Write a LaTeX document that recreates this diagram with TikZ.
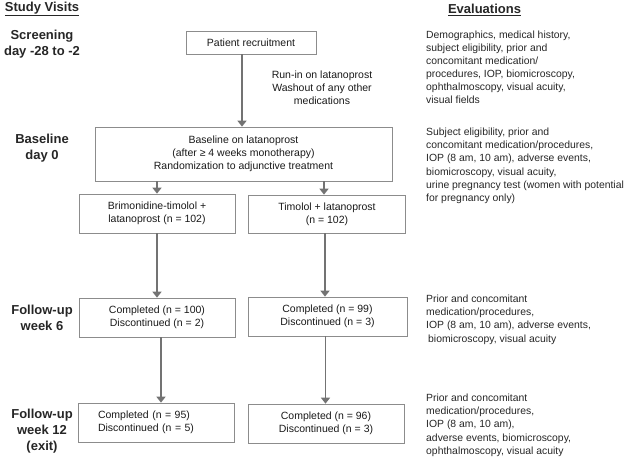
\documentclass[tikz,border=0pt]{standalone}
\usepackage{fontspec}
\setmainfont{Liberation Sans}
\usepackage{tikz}
\usetikzlibrary{arrows.meta}

\tikzset{
  box/.style={draw=black!45, line width=0.7pt, align=center, inner sep=0pt,
    font=\fontsize{10.5}{13}\selectfont, text=black!90},
  visit/.style={align=center, font=\fontsize{13}{16}\selectfont\bfseries, text=black!85},
  evalText/.style={anchor=north west, align=left, inner sep=0pt,
    font=\fontsize{10.4}{13.1}\selectfont, text=black!85},
  flow/.style={draw=black!55, line width=1.8pt,
    -{Triangle[width=9pt,length=6pt]}}
}

\begin{document}
\begin{tikzpicture}[x=1pt,y=-1pt]
\useasboundingbox (0,0) rectangle (627,459);

% column headers
\node[visit] (visitHead) at (42,9) {\underline{Study Visits}};
\node[visit] (evalHead) at (484.5,10) {\underline{Evaluations}};

% study visits
\node[visit] (screenLbl) at (42,44) {Screening\\day -28 to -2};
\node[visit] (baseLbl) at (42,148) {Baseline\\day 0};
\node[visit] (wkSixLbl) at (42,318) {Follow-up\\week 6};
\node[visit] (wkTwelveLbl) at (42,431) {Follow-up\\week 12\\(exit)};

% flow boxes
\node[box, minimum width=130pt, minimum height=23pt] (recruit) at (251,42.5) {Patient recruitment};
\node[align=center, font=\fontsize{10.5}{13.2}\selectfont, text=black!90] (runIn) at (322,88)
  {Run-in on latanoprost\\Washout of any other\\medications};
\node[box, minimum width=297pt, minimum height=54pt] (baseline) at (243.5,154)
  {Baseline on latanoprost\\(after ≥ 4 weeks monotherapy)\\Randomization to adjunctive treatment};
\node[box, minimum width=156pt, minimum height=39pt] (brimArm) at (157,213.5)
  {Brimonidine-timolol +\\latanoprost (n = 102)};
\node[box, minimum width=157pt, minimum height=38pt] (timArm) at (327,214)
  {Timolol + latanoprost\\(n = 102)};
\node[box, minimum width=156pt, minimum height=39pt] (brimWkSix) at (157,317.5)
  {Completed (n = 100)\\Discontinued (n = 2)};
\node[box, minimum width=159pt, minimum height=39pt] (timWkSix) at (327.5,316.5)
  {Completed (n = 99)\\Discontinued (n = 3)};
\node[box, minimum width=156pt, minimum height=39pt, align=left, text width=136pt] (brimWkTwelve) at (156,422.5)
  {\hspace{10pt}Completed (n = 95)\\\hspace{10pt}Discontinued (n = 5)};
\node[box, minimum width=156pt, minimum height=39pt] (timWkTwelve) at (326,423.5)
  {Completed (n = 96)\\Discontinued (n = 3)};

% connectors
\draw[flow] ([xshift=-9pt]recruit.south) -- ([xshift=-9pt]recruit.south |- baseline.north);
\draw[flow] (brimArm.north |- baseline.south) -- (brimArm.north);
\draw[flow] ([xshift=-3pt]timArm.north |- baseline.south) -- ([xshift=-3pt]timArm.north);
\draw[flow] (brimArm.south) -- (brimWkSix.north);
\draw[flow] ([xshift=-2pt]timArm.south) -- ([xshift=-2pt]timArm.south |- timWkSix.north);
\draw[flow] ([xshift=4pt]brimWkSix.south) -- ([xshift=4pt]brimWkSix.south |- brimWkTwelve.north);
\draw[flow] ([xshift=-2pt]timWkSix.south) -- ([xshift=-2pt]timWkSix.south |- timWkTwelve.north);

% evaluations
\node[evalText] (evalScreen) at (426,30.5) {Demographics, medical history,\\subject eligibility, prior and\\concomitant medication/\\procedures, IOP, biomicroscopy,\\ophthalmoscopy, visual acuity,\\visual fields};
\node[evalText] (evalBase) at (426,128) {Subject eligibility, prior and\\concomitant medication/procedures,\\IOP (8 am, 10 am), adverse events,\\biomicroscopy, visual acuity,\\urine pregnancy test (women with potential\\for pregnancy only)};
\node[evalText] (evalWkSix) at (426,295) {Prior and concomitant\\medication/procedures,\\IOP (8 am, 10 am), adverse events,\\\hspace{2pt}biomicroscopy, visual acuity};
\node[evalText] (evalWkTwelve) at (426,394) {Prior and concomitant\\medication/procedures,\\IOP (8 am, 10 am),\\adverse events, biomicroscopy,\\ophthalmoscopy, visual acuity};
\end{tikzpicture}
\end{document}
